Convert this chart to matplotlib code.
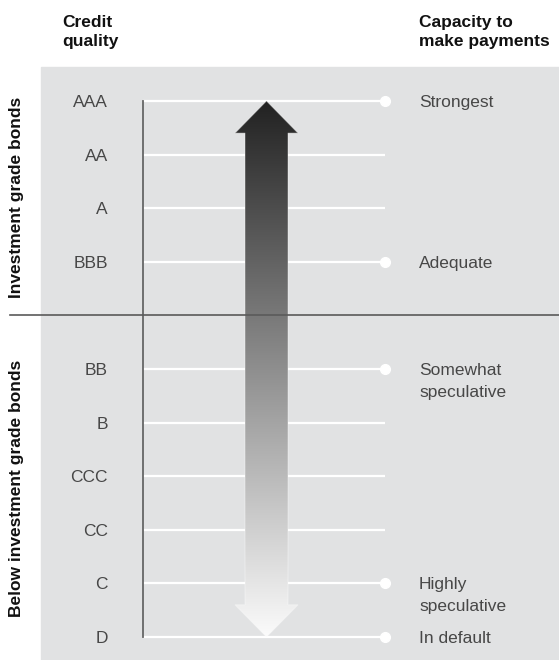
import numpy as np
import matplotlib
matplotlib.use('Agg')
import matplotlib.pyplot as plt
from matplotlib.patches import Polygon, Rectangle

# ratings, top to bottom; slot 4 is left empty for the divider
ratings = ['AAA', 'AA', 'A', 'BBB', 'BB', 'B', 'CCC', 'CC', 'C', 'D']
rating_rows = [0, 1, 2, 3, 5, 6, 7, 8, 9, 10]
capacity = {'AAA': ['Strongest'],
            'BBB': ['Adequate'],
            'BB': ['Somewhat', 'speculative'],
            'C': ['Highly', 'speculative'],
            'D': ['In default']}
divider_row = 4
groups = ['Investment grade bonds', 'Below investment grade bonds']
group_centers = [1.79, 7.22]

plt.rcParams['font.family'] = ['Liberation Sans', 'DejaVu Sans']

fig = plt.figure(figsize=(5.59, 6.60), dpi=100)
ax = fig.add_axes([0, 0, 1, 1])
ax.set_xlim(0, 559)
ax.set_ylim(10.43, -1.884)
ax.axis('off')

bg = '#e1e2e3'
ax.add_patch(Rectangle((41, -0.634), 600, 12, color=bg, zorder=0))

# rating rows
for r, row in zip(ratings, rating_rows):
    ax.plot([143, 385], [row, row], color='white', lw=1.6, zorder=1,
            solid_capstyle='butt')
    ax.text(108, row + 0.03, r, ha='right', va='center', fontsize=12.5, color='#474747')
    if r in capacity:
        ax.plot(385, row, 'o', color='white', ms=7, mec='white', zorder=2)
        for i, line in enumerate(capacity[r]):
            ax.text(419, row + 0.03 + 0.4 * i, line, ha='left', va='center',
                    fontsize=12.5, color='#474747')

ax.plot([143, 143], [rating_rows[0], rating_rows[-1]], color='#666666', lw=1.3, zorder=3)

# gradient double arrow
cx, shaft, head, head_len = 266.5, 21.5, 31.5, 0.6
top, bot = rating_rows[0], rating_rows[-1]
pts = [(cx, top), (cx + head, top + head_len), (cx + shaft, top + head_len),
       (cx + shaft, bot - head_len), (cx + head, bot - head_len), (cx, bot),
       (cx - head, bot - head_len), (cx - shaft, bot - head_len),
       (cx - shaft, top + head_len), (cx - head, top + head_len)]
arrow = Polygon(pts, closed=True, facecolor='none', edgecolor='none', zorder=4)
ax.add_patch(arrow)
g = np.linspace(0x22 / 255, 0xfb / 255, 256)
img = np.repeat(g[:, None], 2, axis=1)
img = np.dstack([img, img, img])
im = ax.imshow(img, extent=[cx - head, cx + head, bot, top], aspect='auto',
               interpolation='bilinear', zorder=4)
im.set_clip_path(arrow)
ax.add_patch(Polygon(pts, closed=True, facecolor='none',
                     edgecolor='white', alpha=0.35, lw=0.8, zorder=5))

# divider
ax.plot([10, 559], [divider_row, divider_row], color='#5a5a5a', lw=1.2, zorder=6)

# headers
ax.text(62, -1.6, 'Credit\nquality', ha='left', va='top', fontsize=12.5,
        fontweight='bold', color='#111111', linespacing=1.3)
ax.text(419, -1.6, 'Capacity to\nmake payments', ha='left', va='top', fontsize=12.5,
        fontweight='bold', color='#111111', linespacing=1.3)

for label, c in zip(groups, group_centers):
    ax.text(17, c, label, rotation=90, ha='center', va='center', fontsize=12.5,
            fontweight='bold', color='#111111')

fig.savefig('out.png', dpi=100, facecolor='white')
